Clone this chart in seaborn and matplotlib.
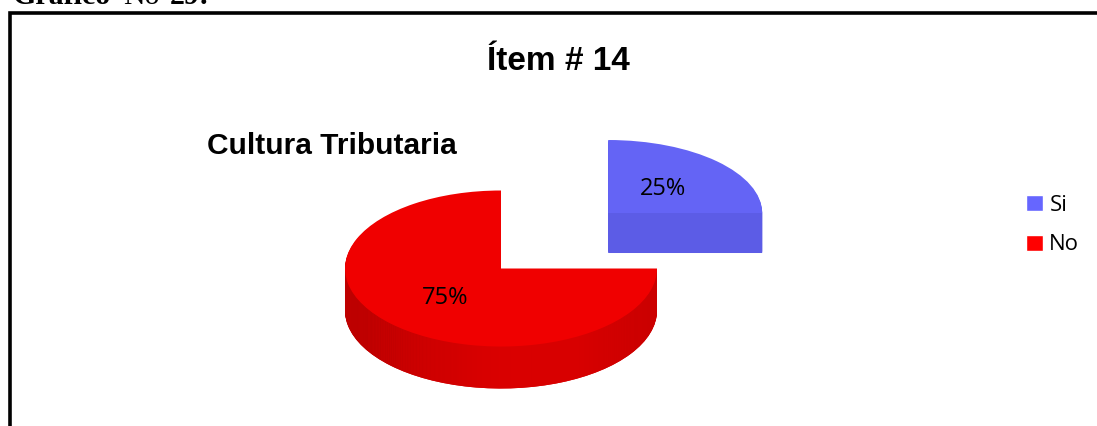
import numpy as np
import matplotlib
matplotlib.use("Agg")
import matplotlib.pyplot as plt
import seaborn as sns
from matplotlib.patches import Patch
from matplotlib.transforms import Affine2D

# Datos del grafico
categorias = ["Si", "No"]
valores = [25, 75]
colores_cara = ["#6464f5", "#f00000"]
colores_lado = ["#5c5ce6", "#d80000"]

ANCHO, ALTO = 1097, 426
RADIO = 156
ESCALA_Y = 2.0  # aplasta el circulo para que parezca 3D
CENTRO_X, CENTRO_Y = 501, 268.5
PROFUNDIDAD = 42
SEPARACION = 153

sns.set_theme(style="white")
plt.rcParams["font.family"] = ["Liberation Sans", "DejaVu Sans"]

fig = plt.figure(figsize=(ANCHO / 100, ALTO / 100), dpi=100, facecolor="white")
ax = fig.add_axes([0, 0, 1, 1])


def alto(y):
    # pasa de pixel de imagen a unidades del eje
    return (ALTO - y) * ESCALA_Y


def ajusta_azul(cuna, d=0):
    # la porcion azul es un poco mas chica y plana que la roja
    cx, cy = cuna.center
    t = (Affine2D().translate(-cx, -cy).scale(154 / 156, 73 / 78)
         .translate(cx - 1, cy + (1.4 + d * 2 / 42) * ESCALA_Y))
    cuna.set_transform(t + ax.transData)


degradado = sns.blend_palette(["#b40000", "#cc0000", "#dc0000", "#d80000", "#c80000"], as_cmap=True)
sin_borde = {"linewidth": 0, "edgecolor": "none"}

# Lados del pastel: capas apiladas de abajo hacia arriba
for d in range(PROFUNDIDAD, 0, -1):
    capas, _ = ax.pie(
        valores,
        colors=colores_lado,
        startangle=0,
        radius=RADIO,
        explode=[SEPARACION, 0],
        center=(CENTRO_X, alto(CENTRO_Y + d)),
        wedgeprops=sin_borde,
    )
    ajusta_azul(capas[0], d)
    img = ax.imshow(
        np.linspace(0, 1, 256).reshape(1, -1),
        cmap=degradado,
        extent=(CENTRO_X - RADIO, CENTRO_X + RADIO, alto(426), alto(0)),
        aspect="auto",
        zorder=capas[1].get_zorder(),
    )
    img.set_clip_path(capas[1])

# Cara superior con los porcentajes
caras, _, porcentajes = ax.pie(
    valores,
    colors=colores_cara,
    startangle=0,
    radius=RADIO,
    explode=[SEPARACION, 0],
    center=(CENTRO_X, alto(CENTRO_Y)),
    autopct="%.0f%%",
    pctdistance=0.5,
    wedgeprops=sin_borde,
    textprops={"family": "Open Sans", "fontsize": 17, "color": "black"},
)
ajusta_azul(caras[0])
for cara in caras:
    cara.set_zorder(5)
for texto in porcentajes:
    texto.set_zorder(6)
    px, py = texto.get_position()
    texto.set_position((px - 1, py - 2 * ESCALA_Y))

ax.set_aspect("auto")
ax.set_xlim(0, ANCHO)
ax.set_ylim(0, alto(0))
ax.axis("off")

# Marco del grafico
ax.plot([9.5, 9.5, ANCHO], [alto(ALTO), alto(12.5), alto(12.5)], color="black", lw=2.6,
        solid_joinstyle="miter", zorder=7)

# Titulos
ax.text(558, alto(61.5), "Ítem # 14", fontsize=24, fontweight="bold", ha="center", va="center", color="black")
ax.text(207, alto(146), "Cultura Tributaria", fontsize=21.5, fontweight="bold", ha="left", va="center", color="black")

# Encabezado cortado arriba, igual que en la imagen original
serif = ["Liberation Serif", "DejaVu Serif"]
ax.text(13, alto(3.5), "Gráfico", family=serif, fontsize=21.5, fontweight="bold", va="baseline", color="black")
ax.text(123, alto(3.5), "No", family=serif, fontsize=21.5, va="baseline", color="black")
ax.text(170, alto(3.5), "29:", family=serif, fontsize=21.5, fontweight="bold", va="baseline", color="black")

# Leyenda
marcas = [Patch(facecolor="#6666ff", label=categorias[0]), Patch(facecolor="#ff0000", label=categorias[1])]
ax.legend(
    handles=marcas,
    loc="center left",
    bbox_to_anchor=(1006 / ANCHO, 1 - 225 / ALTO),
    frameon=False,
    labelcolor="black",
    prop={"family": "Open Sans", "size": 16},
    handlelength=0.75,
    handleheight=0.75,
    handletextpad=0.3,
    labelspacing=0.85,
)

fig.savefig("out.png", dpi=100, facecolor="white")
